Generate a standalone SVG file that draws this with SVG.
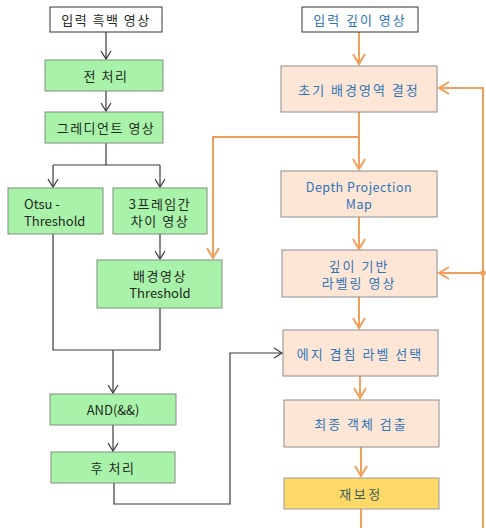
<svg xmlns="http://www.w3.org/2000/svg" width="486" height="528" viewBox="0 0 486 528">
<style>
text{font-family:"Noto Sans CJK KR","Noto Sans",sans-serif;font-size:13px;text-anchor:middle;dominant-baseline:central}
.g rect{fill:#a9f2a9;stroke:#7f8f7f;stroke-width:1}
.p rect{fill:#fde6d6;stroke:#8c8c8c;stroke-width:1}
.w rect{fill:#ffffff;stroke:#333333;stroke-width:1}
.y rect{fill:#ffd968;stroke:#9a9a9a;stroke-width:1}
.g text,.w text.k{fill:#1e2a1e;letter-spacing:1.5px}
.g text.e{letter-spacing:0}
.p text,.w text.b{fill:#2e75b6;letter-spacing:2px}
.p text.e{letter-spacing:0.5px;font-size:12.5px}
.y text{fill:#3d5e5e;letter-spacing:2.5px}
.k2{fill:none;stroke:#3a3a3a;stroke-width:1.2}
.o{fill:none;stroke:#f0a05a;stroke-width:2}
</style>
<defs>
<marker id="ak" markerWidth="12" markerHeight="12" refX="9" refY="6" orient="auto" markerUnits="userSpaceOnUse"><path d="M1,1 L9,6 L1,11" fill="none" stroke="#3a3a3a" stroke-width="1.2"/></marker>
<marker id="ao" markerWidth="14" markerHeight="14" refX="11" refY="7" orient="auto" markerUnits="userSpaceOnUse"><path d="M1,1 L11,7 L1,13" fill="none" stroke="#f0a05a" stroke-width="2"/></marker>
</defs>
<rect width="486" height="528" fill="#ffffff"/>
<g id="connectors">
<path class="k2" d="M106,32 V59" marker-end="url(#ak)"/>
<path class="k2" d="M106,91 V111" marker-end="url(#ak)"/>
<path class="k2" d="M106,143 V165 M53,165 H160"/>
<path class="k2" d="M53,165 V187" marker-end="url(#ak)"/>
<path class="k2" d="M160,165 V187" marker-end="url(#ak)"/>
<path class="k2" d="M160,234 V259" marker-end="url(#ak)"/>
<path class="k2" d="M53,234 V350 H160 V308"/>
<path class="k2" d="M113,350 V393" marker-end="url(#ak)"/>
<path class="k2" d="M113,425 V451" marker-end="url(#ak)"/>
<path class="k2" d="M114,483 V504 H230 V353 H282" marker-end="url(#ak)"/>
<path class="o" d="M359,32 V64" marker-end="url(#ao)"/>
<path class="o" d="M359,112 V169" marker-end="url(#ao)"/>
<path class="o" d="M359,137 H213 V258" marker-end="url(#ao)"/>
<path class="o" d="M359,217 V249" marker-end="url(#ao)"/>
<path class="o" d="M359,297 V328" marker-end="url(#ao)"/>
<path class="o" d="M360,376 V398" marker-end="url(#ao)"/>
<path class="o" d="M361,447 V476" marker-end="url(#ao)"/>
<path class="o" d="M361,509 V528"/>
<path class="o" d="M483,528 V88 H439" marker-end="url(#ao)"/>
<path class="o" d="M483,273 H439" marker-end="url(#ao)"/>
<circle cx="483" cy="273" r="2.8" fill="#f0a05a"/>
</g>
<g id="n1" class="w"><rect x="50" y="7" width="112" height="25"/><text class="k" x="106" y="19.5">입력 흑백 영상</text></g>
<g id="n2" class="g"><rect x="45" y="60" width="118" height="31"/><text x="106" y="75.5">전 처리</text></g>
<g id="n3" class="g"><rect x="45" y="112" width="118" height="31"/><text x="106" y="127.5">그레디언트 영상</text></g>
<g id="n4" class="g"><rect x="8" y="188" width="95" height="46"/><text class="e" x="24" y="203" style="text-anchor:start">Otsu -</text><text class="e" x="24" y="220" style="text-anchor:start">Threshold</text></g>
<g id="n5" class="g"><rect x="113" y="188" width="94" height="46"/><text x="160" y="203">3프레임간</text><text x="160" y="220">차이 영상</text></g>
<g id="n6" class="g"><rect x="97" y="260" width="125" height="48"/><text x="160" y="275">배경영상</text><text class="e" x="160" y="292">Threshold</text></g>
<g id="n7" class="g"><rect x="50" y="394" width="126" height="31"/><text class="e" x="113" y="409.5">AND(&amp;&amp;)</text></g>
<g id="n8" class="g"><rect x="51" y="452" width="124" height="31"/><text x="113" y="467.5">후 처리</text></g>
<g id="n9" class="w"><rect x="302" y="7" width="116" height="25"/><text class="b" x="360" y="19.5">입력 깊이 영상</text></g>
<g id="n10" class="p"><rect x="281" y="66" width="156" height="46"/><text x="359" y="89">초기 배경영역 결정</text></g>
<g id="n11" class="p"><rect x="281" y="171" width="156" height="46"/><text class="e" x="359" y="186">Depth Projection</text><text class="e" x="359" y="203">Map</text></g>
<g id="n12" class="p"><rect x="282" y="250" width="155" height="47"/><text x="359" y="265">깊이 기반</text><text x="359" y="282">라벨링 영상</text></g>
<g id="n13" class="p"><rect x="283" y="330" width="155" height="46"/><text x="360" y="353">에지 겹침 라벨 선택</text></g>
<g id="n14" class="p"><rect x="284" y="400" width="155" height="47"/><text x="361" y="423.5">최종 객체 검출</text></g>
<g id="n15" class="y"><rect x="284" y="478" width="155" height="31"/><text x="361" y="493.5">재보정</text></g>
</svg>
